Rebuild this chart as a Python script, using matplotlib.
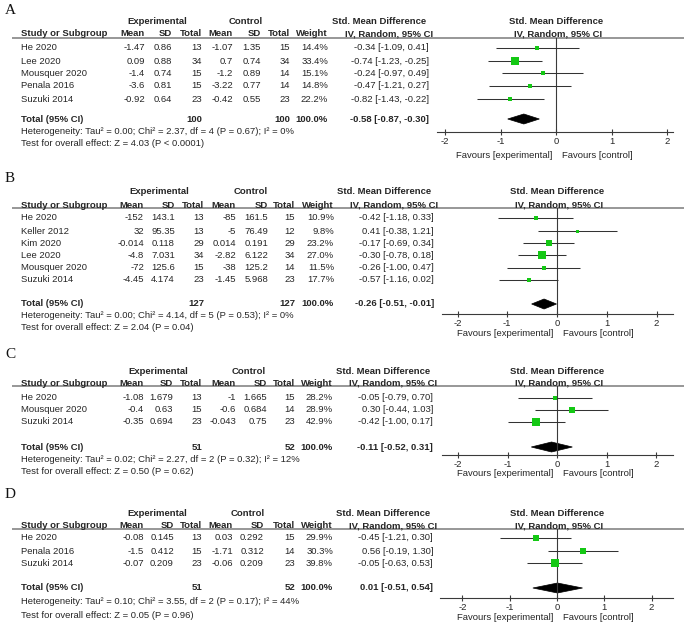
import matplotlib
matplotlib.use("Agg")
import matplotlib.pyplot as plt
from matplotlib.patches import Polygon

# ---------------- DATA ----------------
A_study = ["He 2020", "Lee 2020", "Mousquer 2020", "Penala 2016", "Suzuki 2014"]
A_exp_mean = [-1.47, 0.09, -1.4, -3.6, -0.92]
A_exp_sd = [0.86, 0.88, 0.74, 0.81, 0.64]
A_exp_n = [13, 34, 15, 15, 23]
A_ctl_mean = [-1.07, 0.7, -1.2, -3.22, -0.42]
A_ctl_sd = [1.35, 0.74, 0.89, 0.77, 0.55]
A_ctl_n = [15, 34, 14, 14, 23]
A_weight = [14.4, 33.4, 15.1, 14.8, 22.2]
A_smd = [-0.34, -0.74, -0.24, -0.47, -0.82]
A_lo = [-1.09, -1.23, -0.97, -1.21, -1.43]
A_hi = [0.41, -0.25, 0.49, 0.27, -0.22]
A_total = [100, 100]
A_pooled = [-0.58, -0.87, -0.30]
A_het = "Heterogeneity: Tau² = 0.00; Chi² = 2.37, df = 4 (P = 0.67); I² = 0%"
A_test = "Test for overall effect: Z = 4.03 (P < 0.0001)"

B_study = ["He 2020", "Keller 2012", "Kim 2020", "Lee 2020", "Mousquer 2020", "Suzuki 2014"]
B_exp_mean = [-152, 32, -0.014, -4.8, -72, -4.45]
B_exp_sd = [143.1, 95.35, 0.118, 7.031, 125.6, 4.174]
B_exp_n = [13, 13, 29, 34, 15, 23]
B_ctl_mean = [-85, -5, 0.014, -2.82, -38, -1.45]
B_ctl_sd = [161.5, 76.49, 0.191, 6.122, 125.2, 5.968]
B_ctl_n = [15, 12, 29, 34, 14, 23]
B_weight = [10.9, 9.8, 23.2, 27.0, 11.5, 17.7]
B_smd = [-0.42, 0.41, -0.17, -0.30, -0.26, -0.57]
B_lo = [-1.18, -0.38, -0.69, -0.78, -1.00, -1.16]
B_hi = [0.33, 1.21, 0.34, 0.18, 0.47, 0.02]
B_total = [127, 127]
B_pooled = [-0.26, -0.51, -0.01]
B_het = "Heterogeneity: Tau² = 0.00; Chi² = 4.14, df = 5 (P = 0.53); I² = 0%"
B_test = "Test for overall effect: Z = 2.04 (P = 0.04)"

C_study = ["He 2020", "Mousquer 2020", "Suzuki 2014"]
C_exp_mean = [-1.08, -0.4, -0.35]
C_exp_sd = [1.679, 0.63, 0.694]
C_exp_n = [13, 15, 23]
C_ctl_mean = [-1, -0.6, -0.043]
C_ctl_sd = [1.665, 0.684, 0.75]
C_ctl_n = [15, 14, 23]
C_weight = [28.2, 28.9, 42.9]
C_smd = [-0.05, 0.30, -0.42]
C_lo = [-0.79, -0.44, -1.00]
C_hi = [0.70, 1.03, 0.17]
C_total = [51, 52]
C_pooled = [-0.11, -0.52, 0.31]
C_het = "Heterogeneity: Tau² = 0.02; Chi² = 2.27, df = 2 (P = 0.32); I² = 12%"
C_test = "Test for overall effect: Z = 0.50 (P = 0.62)"

D_study = ["He 2020", "Penala 2016", "Suzuki 2014"]
D_exp_mean = [-0.08, -1.5, -0.07]
D_exp_sd = [0.145, 0.412, 0.209]
D_exp_n = [13, 15, 23]
D_ctl_mean = [0.03, -1.71, -0.06]
D_ctl_sd = [0.292, 0.312, 0.209]
D_ctl_n = [15, 14, 23]
D_weight = [29.9, 30.3, 39.8]
D_smd = [-0.45, 0.56, -0.05]
D_lo = [-1.21, -0.19, -0.63]
D_hi = [0.30, 1.30, 0.53]
D_total = [51, 52]
D_pooled = [0.01, -0.51, 0.54]
D_het = "Heterogeneity: Tau² = 0.10; Chi² = 3.55, df = 2 (P = 0.17); I² = 44%"
D_test = "Test for overall effect: Z = 0.05 (P = 0.96)"

panel_labels = ["A", "B", "C", "D"]
total_weight_label = "100.0%"
x_ticks = [-2, -1, 0, 1, 2]
favours_left = "Favours [experimental]"
favours_right = "Favours [control]"

# ---------------- LAYOUT (pixels) ----------------
W, H = 687, 626
layouts = {
    "A": dict(letter=11, h1=22, h2=34, line=38, rows=[48, 61, 73, 86, 99], total=119, het=131, test=143,
              axis=132, fav=155, zero=556, unit=55.5, L=437, R=673,
              cols=[145, 172, 202, 233, 261, 290, 328, 429], exp_c=157, ctl_c=246),
    "B": dict(letter=178, h1=192, h2=205, line=208, rows=[218, 231, 243, 255, 268, 280], total=304, het=316, test=328,
              axis=314, fav=334, zero=557, unit=49.75, L=442, R=673,
              cols=[144, 175, 204, 236, 268, 295, 334, 434], exp_c=159, ctl_c=251),
    "C": dict(letter=354, h1=371, h2=383, line=386, rows=[398, 410, 422], total=447, het=459, test=471,
              axis=455, fav=474, zero=557, unit=49.5, L=442, R=673,
              cols=[144, 173, 202, 236, 267, 295, 333, 433], exp_c=158, ctl_c=249),
    "D": dict(letter=494, h1=513, h2=526, line=529, rows=[538, 551, 563], total=588, het=602, test=615,
              axis=598, fav=617, zero=557, unit=47.3, L=440, R=673,
              cols=[144, 174, 202, 233, 264, 295, 333, 433], exp_c=157, ctl_c=248),
}

panels = {
    "A": (A_study, A_exp_mean, A_exp_sd, A_exp_n, A_ctl_mean, A_ctl_sd, A_ctl_n, A_weight, A_smd, A_lo, A_hi, A_total, A_pooled, A_het, A_test),
    "B": (B_study, B_exp_mean, B_exp_sd, B_exp_n, B_ctl_mean, B_ctl_sd, B_ctl_n, B_weight, B_smd, B_lo, B_hi, B_total, B_pooled, B_het, B_test),
    "C": (C_study, C_exp_mean, C_exp_sd, C_exp_n, C_ctl_mean, C_ctl_sd, C_ctl_n, C_weight, C_smd, C_lo, C_hi, C_total, C_pooled, C_het, C_test),
    "D": (D_study, D_exp_mean, D_exp_sd, D_exp_n, D_ctl_mean, D_ctl_sd, D_ctl_n, D_weight, D_smd, D_lo, D_hi, D_total, D_pooled, D_het, D_test),
}

plt.rcParams['font.family'] = ['Liberation Sans', 'DejaVu Sans']
FS = 6.8
TXT = "#262626"
GREEN = "#14c814"
MAX_SQ_PX = 7.5

fig = plt.figure(figsize=(W / 100, H / 100), dpi=100)
fig.patch.set_facecolor("white")
bg = fig.add_axes([0, 0, 1, 1])
bg.set_xlim(0, W)
bg.set_ylim(H, 0)
bg.axis("off")


def t(x, y, s, ha="left", bold=False, **kw):
    bg.text(x, y, s, ha=ha, va="center", fontsize=FS, color=TXT,
            fontweight="bold" if bold else "normal", **kw)


for key in panel_labels:
    lay = layouts[key]
    (study, em, esd, en, cm, csd, cn, wt, smd, lo, hi, tot, pooled, het, test) = panels[key]
    c = lay["cols"]
    # panel letter
    bg.text(5, lay["letter"], key, ha="left", va="center", fontsize=11,
            family=["Liberation Serif", "DejaVu Serif"], color="#111111")
    # headers
    t(lay["exp_c"], lay["h1"], "Experimental", ha="center", bold=True)
    t(lay["ctl_c"], lay["h1"], "Control", ha="center", bold=True)
    t(c[7] - 50, lay["h1"], "Std. Mean Difference", ha="center", bold=True)
    t(lay["zero"], lay["h1"], "Std. Mean Difference", ha="center", bold=True)
    t(21, lay["h2"], "Study or Subgroup", bold=True)
    for xx, s in zip(c[:7], ["Mean", "SD", "Total", "Mean", "SD", "Total", "Weight"]):
        t(xx, lay["h2"], s, ha="right", bold=True)
    t(c[7] - 40, lay["h2"], "IV, Random, 95% CI", ha="center", bold=True)
    t(lay["zero"] + 2, lay["h2"], "IV, Random, 95% CI", ha="center", bold=True)
    bg.plot([12, 684], [lay["line"], lay["line"]], color="#7a7a7a", lw=1.1, solid_capstyle="butt")
    # study rows
    for i, y in enumerate(lay["rows"]):
        t(21, y, study[i])
        vals = [f"{em[i]:g}", f"{esd[i]:g}", f"{en[i]}", f"{cm[i]:g}", f"{csd[i]:g}", f"{cn[i]}",
                f"{wt[i]:.1f}%", f"{smd[i]:.2f} [{lo[i]:.2f}, {hi[i]:.2f}]"]
        for xx, s in zip(c, vals):
            t(xx, y, s, ha="right")
    # total row
    t(21, lay["total"], "Total (95% CI)", bold=True)
    t(c[2], lay["total"], f"{tot[0]}", ha="right", bold=True)
    t(c[5], lay["total"], f"{tot[1]}", ha="right", bold=True)
    t(c[6], lay["total"], total_weight_label, ha="right", bold=True)
    t(c[7], lay["total"], f"{pooled[0]:.2f} [{pooled[1]:.2f}, {pooled[2]:.2f}]", ha="right", bold=True)
    t(21, lay["het"], het)
    t(21, lay["test"], test)

    # forest axes
    L, R, zero, unit = lay["L"], lay["R"], lay["zero"], lay["unit"]
    top, bot = lay["line"], lay["axis"]
    ax = fig.add_axes([L / W, 1 - bot / H, (R - L) / W, (bot - top) / H])
    ax.set_xlim((L - zero) / unit, (R - zero) / unit)
    ax.set_ylim(bot, top)
    ax.patch.set_alpha(0)
    for sp in ["top", "left", "right"]:
        ax.spines[sp].set_visible(False)
    ax.spines["bottom"].set_color("#3a3a3a")
    ax.spines["bottom"].set_linewidth(0.8)
    ax.set_yticks([])
    ax.set_xticks(x_ticks)
    ax.set_xticklabels([f"{v:d}" for v in x_ticks])
    ax.tick_params(axis="x", direction="inout", length=5, width=0.8, color="#3a3a3a",
                   labelsize=FS, labelcolor=TXT, pad=1)
    ax.axvline(0, color="#3a3a3a", lw=0.8)
    wmax = max(wt)
    for i, y in enumerate(lay["rows"]):
        ax.plot([lo[i], hi[i]], [y, y], color="#333333", lw=0.75, solid_capstyle="butt")
        side_px = max(3.0, MAX_SQ_PX * wt[i] / wmax)
        ax.plot([smd[i]], [y], marker="s", color=GREEN, markeredgewidth=0,
                markersize=side_px * 72 / 100, linestyle="none", zorder=3)
    yt = lay["total"]
    dh = 5
    ax.add_patch(Polygon([[pooled[1], yt], [pooled[0], yt - dh], [pooled[2], yt], [pooled[0], yt + dh]],
                         closed=True, facecolor="black", edgecolor="black", lw=0.5, clip_on=False))
    t(zero - 4, lay["fav"], favours_left, ha="right")
    t(zero + 6, lay["fav"], favours_right, ha="left")

fig.savefig("out.png", dpi=100, facecolor="white")
